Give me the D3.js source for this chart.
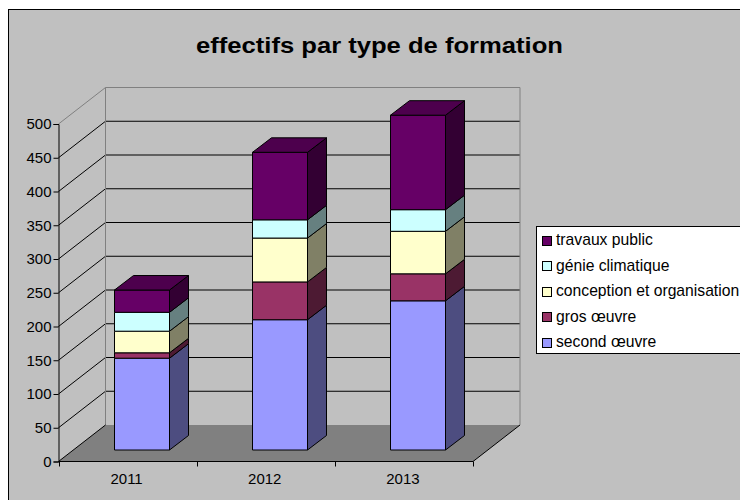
<!DOCTYPE html>
<html><head><meta charset="utf-8">
<script src="https://cdnjs.cloudflare.com/ajax/libs/d3/7.8.5/d3.min.js"></script>
<style>html,body{margin:0;padding:0;background:#fff}svg{display:block}text{font-family:"Liberation Sans",Arial,sans-serif;fill:#000}</style>
</head><body><svg id="c" width="740" height="500"></svg>
<script>
const title = "effectifs par type de formation";
const years = ["2011","2012","2013"];
const seriesNames = ["second œuvre","gros œuvre","conception et organisation","génie climatique","travaux public"];
const secondOeuvre = [136,193,221];
const grosOeuvre = [8,56,40];
const conception = [32,65,63];
const genie = [28,27,32];
const travaux = [33,100,140];
const seriesValues = [secondOeuvre,grosOeuvre,conception,genie,travaux];
const fronts = ["#9999ff","#993366","#ffffcc","#ccffff","#660066"];
const tops = ["#7373bf","#732650","#bfbf99","#99bfbf","#4d004d"];
const sides = ["#4d4d80","#4d1a33","#808066","#668080","#330033"];
const yTicks = [0,50,100,150,200,250,300,350,400,450,500];

const svg = d3.select("#c");
svg.append("rect").attr("x",8.5).attr("y",9.5).attr("width",740).attr("height",500)
  .attr("fill","#c0c0c0").attr("stroke","#000");

const y = d3.scaleLinear().domain([0,500]).range([461.5,124]);
const x = d3.scaleBand().domain(years).range([58.5,473]);
const wallDx = 47, wallDy = -36.5;
const barDx = 19, barDy = -14.5, barBaseShift = -11.5, barW = 55;
const barX = c => Math.floor(x(c) + 56) + 0.5;
const line = d3.line();

const x0 = x.range()[0], x1 = x.range()[1];
svg.append("path").attr("d",line([[x0,y(0)],[x1,y(0)],[x1+wallDx,y(0)+wallDy],[x0+wallDx,y(0)+wallDy]])+"Z")
  .attr("fill","#808080").attr("stroke","none");
yTicks.forEach(t=>{
  const col = t===500 ? "#808080" : "#000";
  if(t>0) svg.append("path").attr("fill","none").attr("stroke",col).attr("stroke-width",1)
    .attr("d",line([[x0,y(t)],[x0+wallDx,y(t)+wallDy],[x1+wallDx,y(t)+wallDy]]));
});
svg.append("path").attr("fill","none").attr("stroke","#808080")
  .attr("d",line([[x0+wallDx,y(0)+wallDy],[x0+wallDx,y(500)+wallDy]]));
svg.append("path").attr("fill","none").attr("stroke","#808080")
  .attr("d",line([[x1+wallDx,y(0)+wallDy],[x1+wallDx,y(500)+wallDy]]));
svg.append("path").attr("fill","none").attr("stroke","#000")
  .attr("d",line([[x1,y(0)],[x1+wallDx,y(0)+wallDy]]));
svg.append("path").attr("fill","none").attr("stroke","#000")
  .attr("d",line([[x0,y(0)],[x0+wallDx,y(0)+wallDy]]));

const bars = svg.append("g").attr("stroke","#000").attr("stroke-width",1).attr("stroke-linejoin","round");
years.forEach((c,i)=>{
  let acc = 0;
  const left = barX(c), right = left + barW;
  seriesValues.forEach((vals,s)=>{
    const yb = y(acc)+barBaseShift, yt = y(acc+vals[i])+barBaseShift;
    acc += vals[i];
    bars.append("path").attr("fill",sides[s])
      .attr("d",line([[right,yb],[right+barDx,yb+barDy],[right+barDx,yt+barDy],[right,yt]])+"Z");
    bars.append("path").attr("fill",fronts[s])
      .attr("d",line([[left,yb],[right,yb],[right,yt],[left,yt]])+"Z");
    if(s===seriesValues.length-1)
      bars.append("path").attr("fill",tops[s])
        .attr("d",line([[left,yt],[right,yt],[right+barDx,yt+barDy],[left+barDx,yt+barDy]])+"Z");
  });
});

const axL = svg.append("g").attr("transform",`translate(${x0},0)`)
  .call(d3.axisLeft(y).tickValues(yTicks).tickSize(5).tickPadding(2));
axL.selectAll("text").style("font-size","15px").style("font-family",'"Liberation Sans",Arial,sans-serif');
axL.selectAll("line,path").attr("stroke","#000");
const axB = svg.append("g").attr("transform",`translate(-1,${y(0)})`)
  .call(d3.axisBottom(x).tickSize(0).tickPadding(12));
axB.selectAll("text").style("font-size","15px").style("font-family",'"Liberation Sans",Arial,sans-serif');
axB.selectAll("path").attr("stroke","none");
svg.append("path").attr("stroke","#000").attr("d",line([[x0,y(0)],[x1,y(0)]]));
[x0,...years.slice(1).map(c=>x(c)),x1].forEach(px=>{
  svg.append("line").attr("x1",Math.round(px)+0.5).attr("x2",Math.round(px)+0.5).attr("y1",y(0)).attr("y2",y(0)+5).attr("stroke","#000");
});

svg.append("text").attr("x",379.5).attr("y",52.5).attr("text-anchor","middle")
  .attr("textLength",367).attr("lengthAdjust","spacingAndGlyphs")
  .style("font-size","22.5px").style("font-weight","bold").text(title);

const leg = svg.append("g");
leg.append("rect").attr("x",536.5).attr("y",226.5).attr("width",210).attr("height",127).attr("fill","#fff").attr("stroke","#000");
const legY = d3.scalePoint().domain(d3.range(5)).range([342.5,240.5]);
seriesNames.forEach((n,s)=>{
  const yy = legY(s);
  leg.append("rect").attr("x",542.5).attr("y",Math.round(yy)-4.5).attr("width",9).attr("height",9).attr("fill",fronts[s]).attr("stroke","#000");
  leg.append("text").attr("x",556).attr("y",yy+4.5).style("font-size","15.7px").text(n);
});
</script></body></html>
